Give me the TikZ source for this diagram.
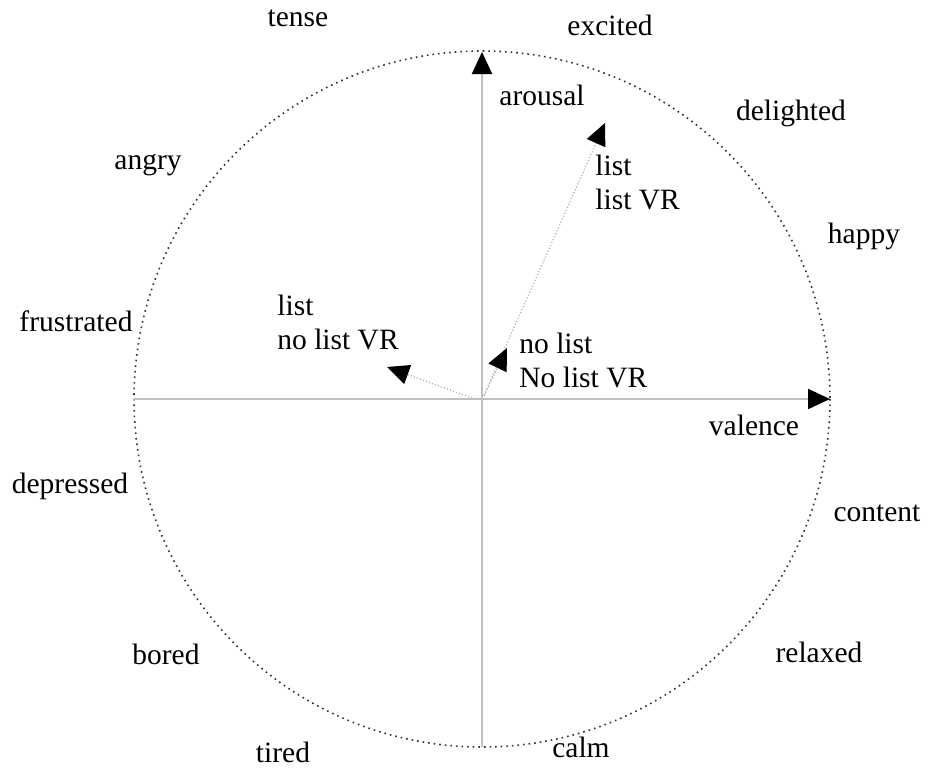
\documentclass[tikz,border=0pt]{standalone}
\usepackage{fontspec}
\setmainfont{Liberation Serif}
\usetikzlibrary{arrows.meta}

\tikzset{
	mood/.style={font=\fontsize{14.75}{17}\selectfont, inner sep=0pt},
	axisline/.style={draw=black!25, line width=1pt},
	vecline/.style={draw=black!30, line width=0.6pt, densely dotted},
	tip/.style={-{Triangle[length=11pt, width=10pt, black]}}
}

\begin{document}
\begin{tikzpicture}[x=0.5pt, y=-0.5pt]
	\useasboundingbox (0,0) rectangle (937,767);
	% circle and axes
	\coordinate (o) at (482,399);
	\draw[dotted, line width=0.8pt, black!80] (o) circle (348);
	\coordinate (bottom) at (482,747);
	\coordinate (top) at (482,52);
	\coordinate (left) at (133,399);
	\coordinate (right) at (830,399);
	\draw[axisline, tip] (bottom) -- (top);
	\draw[axisline, tip] (left) -- (right);
	
	% emotion words
	\node[mood] (tense) at (298,18) {tense};
	\node[mood] (excited) at (610,25) {excited};
	\node[mood] (delighted) at (791,113) {delighted};
	\node[mood] (angry) at (148,165) {angry};
	\node[mood] (happy) at (864,236) {happy};
	\node[mood] (frustrated) at (76,321) {frustrated};
	\node[mood] (depressed) at (70,486) {depressed};
	\node[mood] (content) at (877,513) {content};
	\node[mood] (bored) at (166,654) {bored};
	\node[mood] (relaxed) at (819,652) {relaxed};
	\node[mood] (tired) at (283,752) {tired};
	\node[mood] (calm) at (581,747) {calm};
	\node[mood] (arousal) at (542,95) {arousal};
	\node[mood] (valence) at (754,425) {valence};
	
	% conditions
	\node[mood, align=left, anchor=west] (listvr) at (595,182) {list\\list VR};
	\node[mood, align=left, anchor=west] (listnovr) at (277,322) {list\\no list VR};
	\node[mood, align=left, anchor=west] (nolist) at (519,360) {no list\\No list VR};
	
	\coordinate (a0) at (484,395);
	\coordinate (a1) at (605,123);
	\coordinate (b0) at (472,398);
	\coordinate (b1) at (387,367);
	\coordinate (c0) at (484,396);
	\coordinate (c1) at (507,348);
	\draw[vecline, tip] (a0) -- (a1);
	\draw[vecline, tip] (b0) -- (b1);
	\draw[vecline, tip] (c0) -- (c1);
\end{tikzpicture}
\end{document}
